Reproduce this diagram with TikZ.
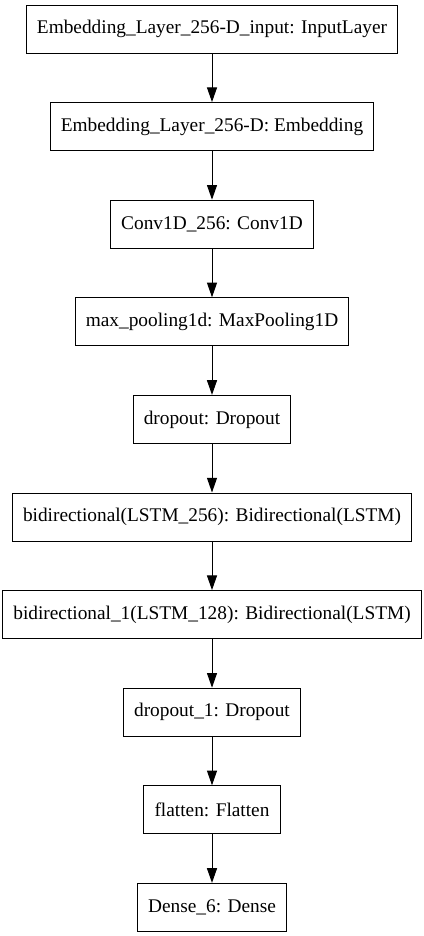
\documentclass[tikz,border=0pt]{standalone}
\usepackage{fontspec}
\setmainfont{Liberation Serif}
\usepackage{tikz}
\usetikzlibrary{positioning}
\usetikzlibrary{arrows.meta}

\begin{document}
\begin{tikzpicture}[
    layer/.style={draw, line width=0.75pt, minimum height=36pt, inner xsep=7.92pt,
      font=\fontsize{14.5pt}{16pt}\selectfont},
    node distance=36.45pt]
    \useasboundingbox (0,0) rectangle (318pt,-702pt);

    \node(input) [layer] at (159pt,-21.75pt) {Embedding\_Layer\_256-D\_input: InputLayer};
    \node(embed) [layer, below=of input] {Embedding\_Layer\_256-D: Embedding};
    \node(conv) [layer, below=of embed] {Conv1D\_256: Conv1D};
    \node(pool) [layer, below=of conv] {max\_pooling1d: MaxPooling1D};
    \node(drop) [layer, below=of pool] {dropout: Dropout};
    \node(bilstm) [layer, below=of drop] {bidirectional(LSTM\_256): Bidirectional(LSTM)};
    \node(bilstm1) [layer, below=of bilstm] {bidirectional\_1(LSTM\_128): Bidirectional(LSTM)};
    \node(drop1) [layer, below=of bilstm1] {dropout\_1: Dropout};
    \node(flat) [layer, below=of drop1] {flatten: Flatten};
    \node(dense) [layer, below=of flat] {Dense\_6: Dense};

    \draw[line width=0.75pt, -{Triangle[length=11pt,width=7.5pt]}] (input) -- (embed);
    \draw[line width=0.75pt, -{Triangle[length=11pt,width=7.5pt]}] (embed) -- (conv);
    \draw[line width=0.75pt, -{Triangle[length=11pt,width=7.5pt]}] (conv) -- (pool);
    \draw[line width=0.75pt, -{Triangle[length=11pt,width=7.5pt]}] (pool) -- (drop);
    \draw[line width=0.75pt, -{Triangle[length=11pt,width=7.5pt]}] (drop) -- (bilstm);
    \draw[line width=0.75pt, -{Triangle[length=11pt,width=7.5pt]}] (bilstm) -- (bilstm1);
    \draw[line width=0.75pt, -{Triangle[length=11pt,width=7.5pt]}] (bilstm1) -- (drop1);
    \draw[line width=0.75pt, -{Triangle[length=11pt,width=7.5pt]}] (drop1) -- (flat);
    \draw[line width=0.75pt, -{Triangle[length=11pt,width=7.5pt]}] (flat) -- (dense);
\end{tikzpicture}
\end{document}
